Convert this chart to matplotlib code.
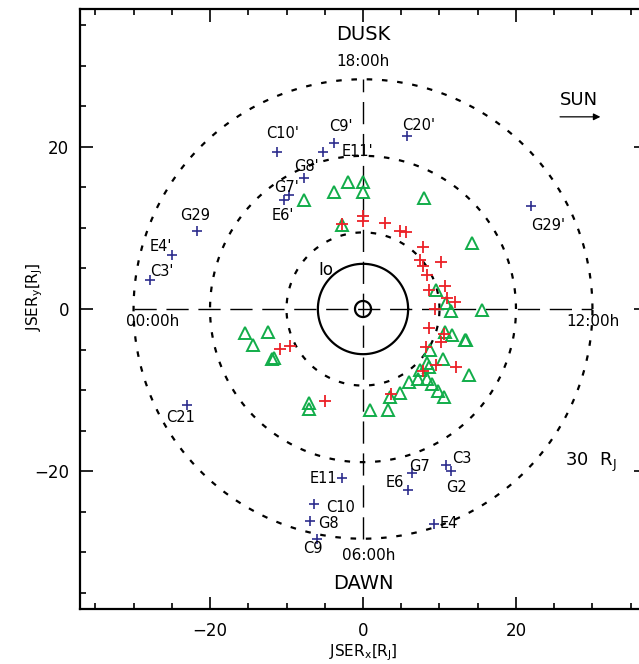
import matplotlib
matplotlib.use("Agg")
import matplotlib.pyplot as plt
import numpy as np
from matplotlib.ticker import MultipleLocator

plt.rcParams["font.family"] = ["DejaVu Sans"]
plt.rcParams["lines.scale_dashes"] = False

# labelled flybys (blue crosses), JSER coordinates in R_J
FLYBY_NAMES = ["C10'", "C9'", "E11'", "C20'", "G8'", "G7'", "E6'", "G29", "E4'", "C3'", "G29'",
               "C21", "E11", "G7", "E6", "C3", "G2", "C10", "G8", "C9", "E4"]
FLYBY_X = [-11.2, -3.8, -5.2, 5.7, -7.7, -9.7, -10.3, -21.7, -25.0, -27.8, 22.0,
           -23.0, -2.8, 6.4, 5.9, 10.9, 11.5, -6.4, -6.9, -6.0, 9.3]
FLYBY_Y = [19.4, 20.5, 19.4, 21.3, 16.2, 14.0, 13.5, 9.6, 6.7, 3.6, 12.7,
           -11.9, -20.9, -20.2, -22.3, -19.2, -20.0, -24.1, -26.2, -28.4, -26.5]

# label offsets in pixels (dx right, dy up) for each flyby name
LABEL_OFFSETS = {
    "C10'": (5, 18), "C9'": (7, 16), "E11'": (34, 0), "C20'": (12, 11),
    "G8'": (2, 11), "G7'": (-2, 8), "E6'": (-1, -16), "G29": (-2, 16),
    "E4'": (-11, 8), "C3'": (11, 8), "G29'": (17, -19), "C21": (-7, -12),
    "E11": (-18, 0), "G7": (8, 6), "E6": (-13, 7), "C3": (15, 6),
    "G2": (6, -16), "C10": (27, -3), "G8": (18, -2), "C9": (-4, -9), "E4": (15, 0),
}

# red crosses
RED_X = [0.0, 0.0, -2.8, 2.9, 4.8, 5.6, 7.8, 7.5, 10.2, 7.8, 8.4, 8.6, 10.7, 11.0,
         12.0, 9.4, 8.6, 10.6, 10.2, 8.2, 9.5, 12.1, 7.8, 3.7, -5.0, -10.9, -9.5]
RED_Y = [11.5, 10.9, 10.5, 10.6, 9.6, 9.5, 7.7, 6.0, 5.8, 5.3, 4.2, 2.3, 2.8, 1.4,
         0.9, 0.0, -2.3, -3.1, -4.1, -4.7, -6.9, -7.1, -7.7, -10.5, -11.4, -4.9, -4.6]

# green triangles
GREEN_X = [-2.0, 0.0, -3.8, 0.0, -7.7, 8.0, -2.8, 14.3,
           9.6, 10.9, 11.5, 15.6, 10.7, 11.7, 13.3, 13.5, 8.7, 10.5, 13.8, 8.4,
           8.6, 7.5, 7.2, 8.4, 6.0, 9.0, 9.8, 10.6, 4.9, 3.5, 0.9, 3.3,
           -15.4, -12.4, -14.4, -11.9, -11.7, -7.0, -7.0]
GREEN_Y = [15.7, 15.7, 14.4, 14.4, 13.5, 13.7, 10.4, 8.2,
           2.4, 0.7, -0.3, -0.1, -2.8, -3.2, -3.8, -3.8, -5.1, -6.2, -8.1, -6.7,
           -7.1, -7.5, -8.6, -8.6, -9.0, -9.3, -10.1, -10.8, -10.3, -10.8, -12.5, -12.5,
           -3.0, -2.8, -4.4, -6.2, -6.1, -11.6, -12.3]

RING_RADII = [10, 20, 30]
IO_RADIUS = 5.9
JUPITER_RADIUS = 1.05

BLUE = "#2e2e8e"
RED = "#ec2127"
GREEN = "#12ad4a"

# the original rings are round on the page while the y axis is slightly stretched
Y_SQUASH = 7.65 / 8.1


def ring(ax, r, **kw):
    t = np.linspace(0, 2 * np.pi, 400)
    return ax.plot(r * np.cos(t), r * np.sin(t) * Y_SQUASH, **kw)


def main() -> None:
    fig = plt.figure(figsize=(6.39, 6.64), dpi=100)
    ax = fig.add_axes([80 / 639, 55 / 664, 566 / 639, 600 / 664])
    ax.set_xlim(-37, 37)
    ax.set_ylim(-37, 37)

    for r in RING_RADII:
        (ln,) = ring(ax, r, color="black", lw=1.6)
        ln.set_dashes((4, 7))
    ring(ax, IO_RADIUS, color="black", lw=1.6)
    ring(ax, JUPITER_RADIUS, color="black", lw=1.6)

    rmax = RING_RADII[-1]
    ax.plot([-rmax, rmax], [0, 0], color="black", lw=1.0, dashes=(16, 7))
    ax.plot([0, 0], [-rmax * Y_SQUASH, rmax * Y_SQUASH], color="black", lw=1.0, dashes=(16, 7))

    ax.plot(GREEN_X, GREEN_Y, ls="none", marker="^", ms=8, mfc="none", mec=GREEN, mew=1.4)
    ax.plot(RED_X, RED_Y, ls="none", marker="+", ms=8, mec=RED, mew=1.3)
    ax.plot(FLYBY_X, FLYBY_Y, ls="none", marker="+", ms=7, mec=BLUE, mew=1.2)

    for name, x, y in zip(FLYBY_NAMES, FLYBY_X, FLYBY_Y):
        dx, dy = LABEL_OFFSETS[name]
        ax.annotate(name, (x, y), xytext=(dx * 0.72, dy * 0.72), textcoords="offset points",
                    ha="center", va="center", fontsize=10.5)

    ax.text(0, 33.8, "DUSK", ha="center", va="center", fontsize=14)
    ax.text(0, 30.5, "18:00h", ha="center", va="center", fontsize=11)
    ax.text(0, -33.9, "DAWN", ha="center", va="center", fontsize=14)
    ax.text(0.8, -30.4, "06:00h", ha="center", va="center", fontsize=11)
    ax.text(-27.5, -1.5, "00:00h", ha="center", va="center", fontsize=11)
    ax.text(30.0, -1.5, "12:00h", ha="center", va="center", fontsize=11)
    ax.text(-4.8, 4.8, "Io", ha="center", va="center", fontsize=12)
    ax.text(29.8, -18.9, r"30  R$_\mathrm{J}$", ha="center", va="center", fontsize=13)
    ax.text(28.2, 25.8, "SUN", ha="center", va="center", fontsize=13)
    ax.annotate("", xy=(31.4, 23.7), xytext=(25.4, 23.7),
                arrowprops=dict(arrowstyle="-|>", color="black", lw=0.9, mutation_scale=10))

    ax.xaxis.set_major_locator(MultipleLocator(20))
    ax.xaxis.set_minor_locator(MultipleLocator(5))
    ax.yaxis.set_major_locator(MultipleLocator(20))
    ax.yaxis.set_minor_locator(MultipleLocator(5))
    ax.tick_params(which="both", direction="in", top=True, right=True, width=1.2, labelsize=12)
    ax.tick_params(which="major", length=9)
    ax.tick_params(which="minor", length=4.5)
    ax.tick_params(axis="x", which="major", pad=9)
    ax.tick_params(axis="y", which="major", pad=8)
    for sp in ax.spines.values():
        sp.set_linewidth(1.6)

    ax.set_xlabel(r"JSER$_\mathrm{x}$[R$_\mathrm{J}$]", fontsize=11, labelpad=2)
    ax.set_ylabel(r"JSER$_\mathrm{y}$[R$_\mathrm{J}$]", fontsize=11)
    ax.yaxis.set_label_coords(-0.062, 0.52)

    fig.savefig("out.png", dpi=100)


if __name__ == "__main__":
    main()
